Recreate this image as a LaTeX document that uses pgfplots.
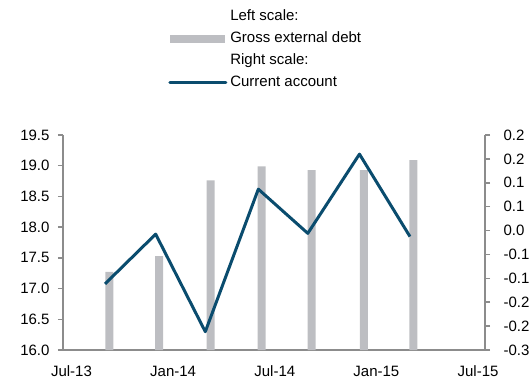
\documentclass[border=0pt]{standalone}
\usepackage{fontspec}
\setmainfont{Liberation Sans}
\usepackage{pgfplots}
\pgfplotsset{compat=1.18}
\definecolor{barg}{RGB}{189,190,194}
\definecolor{navy}{RGB}{10,76,110}
\definecolor{axg}{RGB}{140,140,140}
\pgfplotsset{
  common/.style={
    at={(0,0)}, anchor=south west,
    scale only axis, width=422bp, height=215bp,
    xmin=-0.50, xmax=24.41,
    tick align=outside, major tick length=5bp,
    axis line style={axg, line width=1.5bp},
    ytick style={axg, line width=1.5bp},
    xtick style={draw=none},
    tick label style={font=\fontsize{15bp}{18bp}\selectfont},
    /pgf/number format/assume math mode=true,
  }
}
\begin{document}
\begin{tikzpicture}
\useasboundingbox (-63bp,-31bp) rectangle (469bp,350bp);
\begin{axis}[common,
  ymin=16, ymax=19.5,
  axis x line*=bottom, axis y line*=left,
  ytick={16,16.5,17,17.5,18,18.5,19,19.5},
  yticklabel style={xshift=-5bp, /pgf/number format/fixed,/pgf/number format/fixed zerofill,/pgf/number format/precision=1},
  xtick={0,6,12,18,24},
  xticklabels={Jul-13,Jan-14,Jul-14,Jan-15,Jul-15},
  xticklabel style={yshift=-7.5bp},
  ybar, bar width=8bp,
]
\addplot[fill=barg, draw=none] coordinates {
  (2.24,17.27) (5.18,17.53) (8.22,18.76) (11.22,18.99) (14.18,18.93) (17.26,18.93) (20.18,19.09)
};
\end{axis}
\begin{axis}[common,
  ymin=-0.30, ymax=0.24,
  axis y line*=right, axis x line=none,
  ytick={-0.30,-0.24,-0.18,-0.12,-0.06,0,0.06,0.12,0.18,0.24},
  yticklabels={-0.3,-0.2,-0.2,-0.1,-0.1,0.0,0.1,0.1,0.2,0.2},
  yticklabel style={xshift=10bp},
  legend style={at={(axis description cs:0.249,1.584)}, anchor=north west,
    draw=none, fill=none, inner sep=0pt, column sep=3bp, row sep=8bp,
    font=\fontsize{15bp}{18bp}\selectfont,
    nodes={inner sep=0pt, text height=11bp, text depth=3bp}},
  legend cell align=left,
]
\addlegendimage{empty legend}
\addlegendentry{Left scale:}
\addlegendimage{legend image code/.code={\fill[barg] (0bp,-3.5bp) rectangle (54bp,3.5bp);}}
\addlegendentry{Gross external debt}
\addlegendimage{empty legend}
\addlegendentry{Right scale:}
\addlegendimage{legend image code/.code={\draw[navy, line width=3bp, line cap=round] (0bp,0bp) -- (56bp,0bp);}}
\addlegendentry{Current account}
\addplot[navy, line width=3bp, line join=round, forget plot] coordinates {
  (1.98,-0.134) (4.97,-0.009) (7.90,-0.254) (11.03,0.104) (13.95,-0.007) (17.00,0.192) (19.98,-0.015)
};
\end{axis}
\end{tikzpicture}
\end{document}
